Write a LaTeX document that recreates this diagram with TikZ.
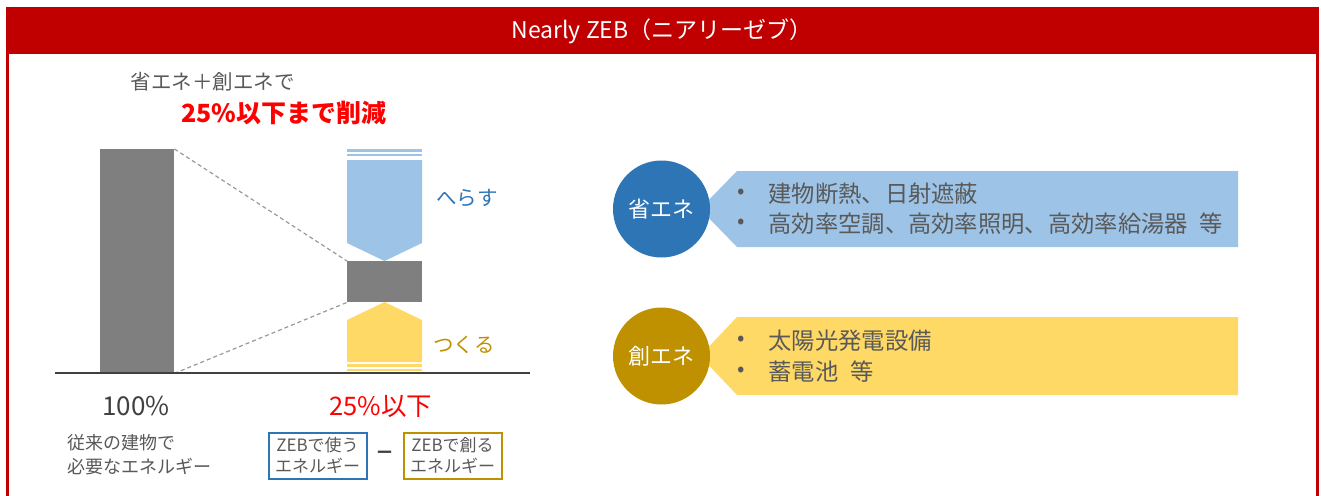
\documentclass[tikz,border=0pt]{standalone}
\usepackage{fontspec}
\setmainfont{Noto Sans CJK JP}
\definecolor{hdrred}{HTML}{C00000}
\definecolor{cblue}{HTML}{2E75B6}
\definecolor{lblue}{HTML}{9DC3E6}
\definecolor{cgold}{HTML}{BF9000}
\definecolor{lyel}{HTML}{FFD966}
\definecolor{bgray}{HTML}{7F7F7F}
\definecolor{tgray}{HTML}{595959}
\definecolor{dgray}{HTML}{404040}
\definecolor{pred}{HTML}{FF0000}
\tikzset{
  barbox/.style={fill=bgray, draw=none, inner sep=0pt, anchor=north west},
  guide/.style={draw=bgray!80, dashed, line width=1.2pt, dash pattern=on 4pt off 3pt},
  axisline/.style={draw=dgray, line width=2pt},
  zebbox/.style={draw=#1, line width=2pt, align=center, text=tgray, inner sep=0pt,
     minimum width=98pt, minimum height=46pt, font=\fontsize{17}{21}\selectfont},
  roundlbl/.style={circle, fill=#1, text=white, inner sep=0pt, minimum size=97pt,
     font=\fontsize{22}{24}\selectfont},
  bul/.style={anchor=center, text=tgray, font=\fontsize{22}{24}\selectfont},
  btxt/.style={anchor=west, text=tgray, font=\fontsize{23.3}{26}\selectfont},
}
\begin{document}
\begin{tikzpicture}[x=1pt, y=-1pt]
\useasboundingbox (0,0) rectangle (1321,495);
% frame
\fill[hdrred] (6,7) rectangle (1319,54);
\draw[hdrred, line width=3pt] (7.5,8.5) rectangle (1317.5,520);
\node[text=white, font=\fontsize{23}{26}\selectfont] (title) at (662,31) {Nearly ZEB（ニアリーゼブ）};
% headline
\node[anchor=west, text=tgray, font=\fontsize{20.5}{24}\selectfont] (t1) at (127,82) {省エネ＋創エネで};
\node[anchor=west, text=pred, font=\bfseries\fontsize{25}{28}\selectfont] (t2) at (178,113) {25\%以下まで削減};
% bars
\node[barbox, minimum width=74pt, minimum height=224pt] (big) at (100,149) {};
\node[barbox, minimum width=75pt, minimum height=41pt] (small) at (347,261) {};
\draw[guide] (big.north east) -- (small.north west);
\draw[guide] (big.south east) -- (small.south west);
% blue arrow (reduce)
\fill[lblue] (347,149) rectangle (422,151.5);
\fill[lblue] (347,153.5) rectangle (422,156);
\fill[lblue] (347,160) -- (422,160) -- (422,243) -- (384.5,261) -- (347,243) -- cycle;
% yellow arrow (create)
\fill[lyel] (347,320) -- (384.5,302) -- (422,320) -- (422,362) -- (347,362) -- cycle;
\fill[lyel] (347,364) rectangle (422,366.5);
\fill[lyel] (347,368.5) rectangle (422,371);
% axis
\coordinate (axl) at (55,373);
\coordinate (axr) at (530,373);
\draw[axisline] (axl) -- (axr);
\node[text=cblue, font=\fontsize{20.5}{24}\selectfont] (herasu) at (467,198) {へらす};
\node[text=cgold, font=\fontsize{20.5}{24}\selectfont] (tsukuru) at (464,345) {つくる};
% bottom labels
\node[text=dgray, font=\fontsize{26}{28}\selectfont] (p100) at (136,406) {100\%};
\node[text=pred, font=\fontsize{25.5}{28}\selectfont] (p25) at (381,406) {25\%以下};
\node[anchor=west, align=left, text=tgray, inner sep=0pt, font=\fontsize{18}{24}\selectfont] (conv) at (67,455) {従来の建物で\\必要なエネルギー};
\node[zebbox=cblue] (use) at (317.5,455.5) {ZEBで使う\\エネルギー};
\node[text=dgray, font=\bfseries\fontsize{19}{20}\selectfont] (minus) at (385,455) {－};
\node[zebbox=cgold] (make) at (452.5,455.5) {ZEBで創る\\エネルギー};
% right: save energy
\fill[lblue] (700,209) -- (737,171) -- (1238,171) -- (1238,247) -- (737,247) -- cycle;
\node[roundlbl=cblue] (se) at (661.5,209) {省エネ};
\node[bul] (b1) at (741,194) {•};
\node[btxt] (s1) at (765,194) {建物断熱、日射遮蔽};
\node[bul] (b2) at (741,224) {•};
\node[btxt] (s2) at (765,224) {高効率空調、高効率照明、高効率給湯器\hspace{0.5em}等};
% right: create energy
\fill[lyel] (700,356) -- (737,317) -- (1238,317) -- (1238,395) -- (737,395) -- cycle;
\node[roundlbl=cgold] (ce) at (661.5,356) {創エネ};
\node[bul] (b3) at (741,341) {•};
\node[btxt] (c1) at (765,341) {太陽光発電設備};
\node[bul] (b4) at (741,372) {•};
\node[btxt] (c2) at (765,372) {蓄電池\hspace{0.5em}等};
\end{tikzpicture}
\end{document}
